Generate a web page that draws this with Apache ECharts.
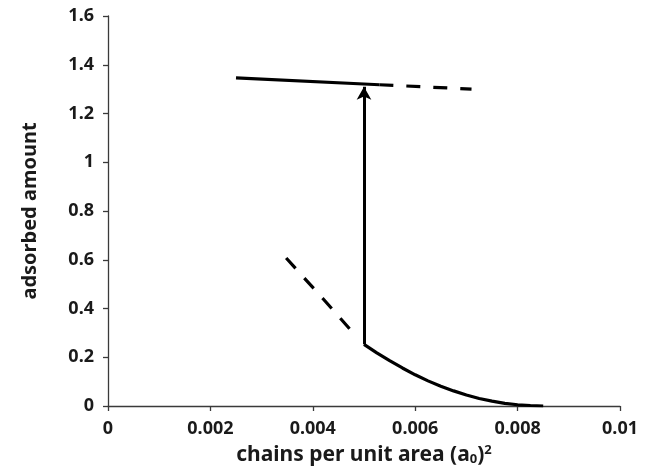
<!DOCTYPE html>
<html>
<head>
<meta charset="utf-8">
<script src="https://cdn.jsdelivr.net/npm/echarts@6/dist/echarts.min.js"></script>
<style>
  html, body { margin: 0; padding: 0; background: #fff; }
  #chart { width: 652px; height: 474px; }
</style>
</head>
<body>
<div id="chart"></div>
<script>
// tick values
const xTicks = [0, 0.002, 0.004, 0.006, 0.008, 0.01]
const yTicks = [0, 0.2, 0.4, 0.6, 0.8, 1, 1.2, 1.4, 1.6]

// upper branch (stable part solid, metastable dashed)
const upperSolid = [[0.0025, 1.346], [0.0053, 1.318]]
const upperDashed = [[0.0053, 1.318], [0.0071, 1.300]]

// lower branch
const lowerDashed = [[0.00348, 0.607], [0.0042, 0.44], [0.00488, 0.278]]
const lowerSolid = [
  [0.005, 0.253], [0.00525, 0.218], [0.0055, 0.186], [0.00575, 0.156],
  [0.006, 0.128], [0.00625, 0.103], [0.0065, 0.081], [0.00675, 0.062],
  [0.007, 0.045], [0.00725, 0.031], [0.0075, 0.020], [0.00775, 0.011],
  [0.008, 0.005], [0.00825, 0.002], [0.0085, 0.0]
]

// jump arrow
const jump = [[0.005, 0.253], [0.005, 1.31]]

const font = 'Noto Sans'
const labelColor = '#1a1a1a'
const chart = echarts.init(document.getElementById('chart'))

const lineSeries = (data, dashed) => ({
  type: 'line',
  data: data,
  showSymbol: false,
  symbol: 'none',
  silent: true,
  lineStyle: {
    color: '#000',
    width: 3.2,
    type: dashed ? [14, 13] : 'solid'
  }
})

chart.setOption({
  animation: false,
  grid: { left: 108, right: 32, top: 16, bottom: 68 },
  xAxis: {
    type: 'value',
    min: xTicks[0],
    max: xTicks[xTicks.length - 1],
    interval: xTicks[1] - xTicks[0],
    splitLine: { show: false },
    axisLine: { onZero: false, lineStyle: { color: '#3a3a3a', width: 1.3 } },
    axisTick: { show: true, length: 5, lineStyle: { color: '#3a3a3a', width: 1.3 } },
    axisLabel: {
      margin: 14, fontFamily: font, fontWeight: 'bold', fontSize: 18, color: labelColor,
      formatter: v => String(+v.toFixed(3))
    },
    name: '{t|chains per unit area (a}{sub|0}{t|)}{sup|2}',
    nameLocation: 'middle',
    nameGap: 38,
    nameTextStyle: {
      rich: {
        t: { fontFamily: font, fontWeight: 'bold', fontSize: 21, color: labelColor },
        sub: { fontFamily: font, fontWeight: 'bold', fontSize: 13, color: labelColor, padding: [9, 0, 0, 0] },
        sup: { fontFamily: font, fontWeight: 'bold', fontSize: 13, color: labelColor, padding: [0, 0, 9, 0] }
      }
    }
  },
  yAxis: {
    type: 'value',
    min: yTicks[0],
    max: yTicks[yTicks.length - 1],
    interval: 0.2,
    splitLine: { show: false },
    axisLine: { show: true, lineStyle: { color: '#3a3a3a', width: 1.3 } },
    axisTick: { show: true, length: 5, lineStyle: { color: '#3a3a3a', width: 1.3 } },
    axisLabel: {
      margin: 14, fontFamily: font, fontWeight: 'bold', fontSize: 18, color: labelColor,
      formatter: v => String(+v.toFixed(1))
    },
    name: 'adsorbed amount',
    nameLocation: 'middle',
    nameGap: 68,
    nameTextStyle: { fontFamily: font, fontWeight: 'bold', fontSize: 20, color: labelColor }
  },
  series: [
    lineSeries(upperSolid, false),
    lineSeries(upperDashed, true),
    lineSeries(lowerDashed, true),
    lineSeries(lowerSolid, false),
    {
      type: 'line',
      data: [],
      markLine: {
        silent: true,
        symbol: ['none', 'arrow'],
        symbolSize: [11, 13],
        label: { show: false },
        lineStyle: { color: '#000', width: 3, type: 'solid' },
        data: [[{ coord: jump[0] }, { coord: jump[1] }]]
      }
    }
  ]
})
</script>
</body>
</html>
